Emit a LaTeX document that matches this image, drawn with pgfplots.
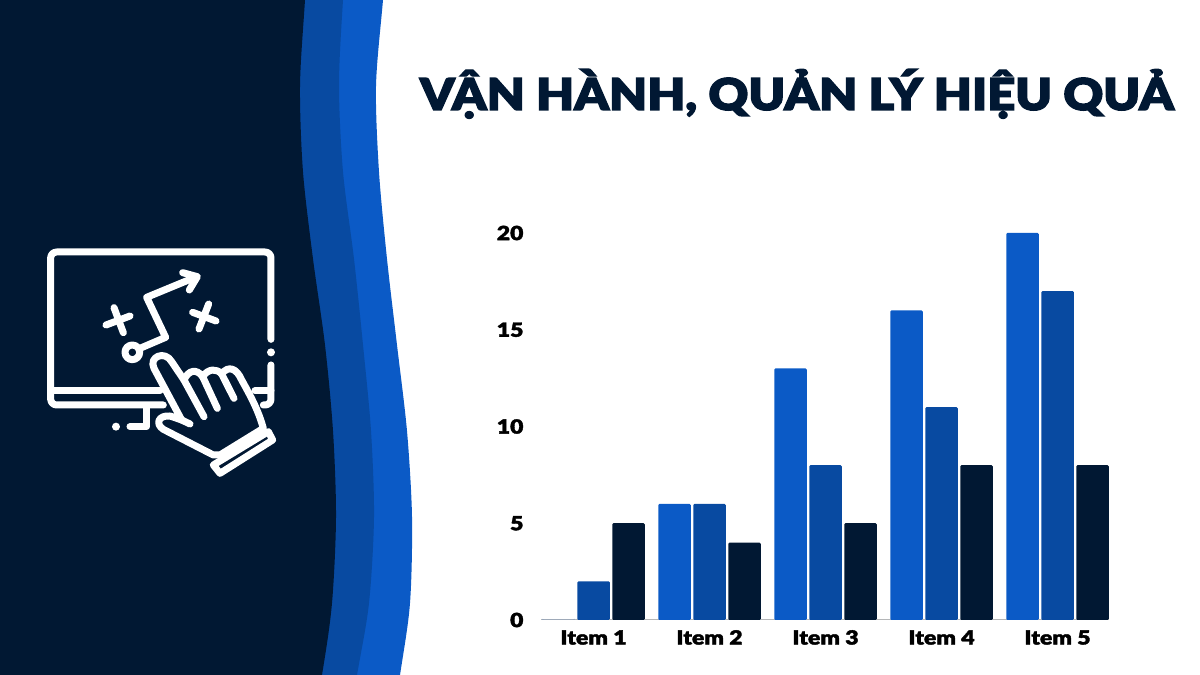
\documentclass[border=0pt]{standalone}
\usepackage{fontspec}
\usepackage{pgfplots}
\pgfplotsset{compat=1.18}
\setmainfont{Lato Black}[FakeBold=1.8,FakeStretch=1.18]
\newfontfamily\titlefont{Lato Black}[FakeBold=3,FakeStretch=1.12]
\definecolor{navy}{HTML}{011833}
\definecolor{midblue}{HTML}{084AA1}
\definecolor{brightblue}{HTML}{0B5AC6}
\definecolor{gridgrey}{HTML}{DADCDF}
\definecolor{axisgrey}{HTML}{B4B6B8}

\begin{document}
\begin{tikzpicture}
\useasboundingbox (0,0) rectangle (1200pt,675pt);

% wavy side panel, in image pixels
\begin{axis}[
    at={(0,0)}, anchor=south west,
    width=1200pt, height=675pt, scale only axis,
    xmin=0, xmax=1200, ymin=0, ymax=675, y dir=reverse,
    hide axis
  ]
  \addplot[fill=brightblue, draw=none, smooth] coordinates {
      (-300,800) (-300,-120) (394,-120) (383,0) (376,86) (379,172) (387,259) (397,345)
      (407,431) (412,517) (410,603) (400,675) (380,800)};
  \addplot[fill=midblue, draw=none, smooth] coordinates {
      (-300,800) (-300,-120) (352,-120) (343,0) (339,86) (343,172) (354,259) (363,345)
      (371,431) (374,517) (369,603) (357,675) (335,800)};
  \addplot[fill=navy, draw=none, smooth] coordinates {
      (-300,800) (-300,-120) (313,-120) (305,0) (300,86) (303,172) (313,259) (325,345)
      (333,431) (336,517) (332,603) (322,675) (300,800)};
\end{axis}

% icon, traced from the 3x crop at (0,220)
\begin{scope}[shift={(0pt,455pt)}, x=0.33333pt, y=-0.33333pt,
    line width=7pt, white, line cap=round, line join=round]
  \draw[rounded corners=6pt] (813,358) -- (813,96) -- (152,96) -- (152,555) -- (490,555);
  \draw[rounded corners=6pt] (813,435) -- (813,555) -- (790,555);
  \fill (813,397) circle (12);
  \draw (152,512) -- (480,512);
  \draw (765,512) -- (813,512);
  \draw (440,565) -- (440,620) -- (390,620);
  \fill (348,620) circle (12);
  % crosses
  \draw (318,315) -- (390,288);
  \draw (342,263) -- (370,338);
  \draw (578,277) -- (648,303);
  \draw (626,252) -- (597,327);
  % route
  \draw (397,397) circle (22);
  \draw (420,385) -- (497,352) -- (440,232) -- (590,170);
  \draw (548,158) -- (592,170) -- (568,210);
  % hand
  \draw[fill=navy]
    (640,705) -- (490,628)
    .. controls (465,612) and (475,585) .. (510,588)
    -- (545,600) -- (462,445)
    .. controls (445,410) and (495,390) .. (515,425)
    -- (552,480)
    .. controls (565,450) and (590,445) .. (608,470)
    .. controls (625,445) and (650,445) .. (665,462)
    .. controls (685,435) and (710,445) .. (725,480)
    .. controls (750,525) and (775,570) .. (790,625)
    -- (660,705) -- cycle;
  \draw (552,480) -- (612,590);
  \draw (608,470) -- (652,565);
  \draw (665,462) -- (702,535);
  \draw (545,600) -- (570,612);
  \draw[fill=navy] (640,735) -- (805,635) -- (818,660) -- (660,760) -- cycle;
\end{scope}

\node[anchor=base, text=navy, font=\titlefont\fontsize{43.8}{43.8}\selectfont]
  at (797pt,565pt) {VẬN HÀNH, QUẢN LÝ HIỆU QUẢ};

% bar chart
\begin{axis}[
    at={(541pt,55pt)}, anchor=south west,
    width=568pt, height=387pt, scale only axis,
    ybar, bar width=32.5pt,
    xmin=-0.4526, xmax=4.444, ymin=0, ymax=20,
    xtick={0,1,2,3,4},
    xticklabels={Item 1, Item 2, Item 3, Item 4, Item 5},
    ytick={0,5,10,15,20},
    ymajorgrids, grid style={gridgrey, line width=0.8pt},
    axis x line*=bottom, axis y line=none,
    x axis line style={axisgrey, line width=1pt, -},
    major tick length=0pt,
    /pgf/number format/assume math mode=true,
    tick label style={font=\fontsize{19.5}{19.5}\selectfont, text=black},
    xticklabel style={yshift=-7pt, text height=14pt, text depth=0pt},
    clip=false
  ]
  \addplot[fill=brightblue, draw=none, rounded corners=1.2pt, bar shift=-35pt] coordinates {(0,0) (1,6) (2,13) (3,16) (4,20)};
  \addplot[fill=midblue, draw=none, rounded corners=1.2pt, bar shift=0pt] coordinates {(0,2) (1,6) (2,8) (3,11) (4,17)};
  \addplot[fill=navy, draw=none, rounded corners=1.2pt, bar shift=35pt] coordinates {(0,5) (1,4) (2,5) (3,8) (4,8)};
\end{axis}

% y labels: axis y line=none drops them, so a second axis carries them
\begin{axis}[
    at={(541pt,55pt)}, anchor=south west,
    width=568pt, height=387pt, scale only axis,
    xmin=0, xmax=1, ymin=0, ymax=20,
    ytick={0,5,10,15,20}, xtick=\empty,
    axis x line=none, axis y line*=left,
    y axis line style={draw=none},
    major tick length=0pt,
    /pgf/number format/assume math mode=true,
    tick label style={font=\fontsize{19.5}{19.5}\selectfont, text=black},
    yticklabel style={xshift=-14pt}
  ]
\end{axis}
\end{tikzpicture}
\end{document}
